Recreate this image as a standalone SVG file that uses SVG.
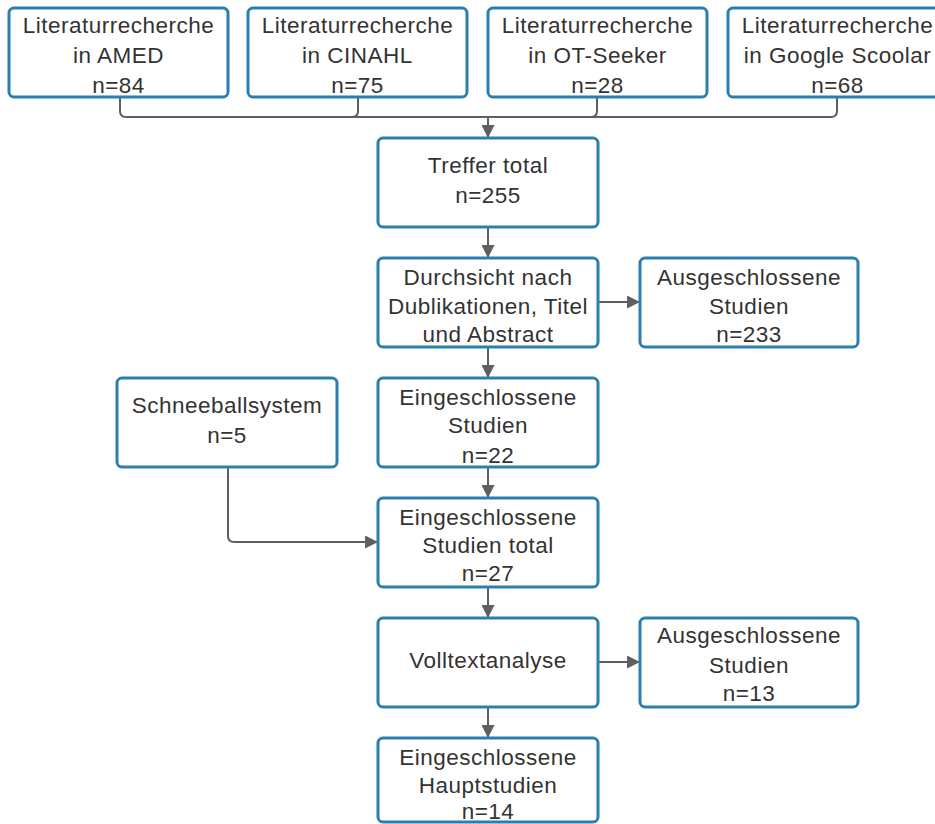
<svg xmlns="http://www.w3.org/2000/svg" width="935" height="824" viewBox="0 0 935 824">
<style>
.box{fill:#fff;stroke:#2a7fb0;stroke-width:3}
.t{font-family:"Liberation Sans",Arial,sans-serif;font-size:22.5px;letter-spacing:0.5px;fill:#333;text-anchor:middle}
.c{fill:none;stroke:#5f5f5f;stroke-width:2}
</style>
<defs>
<marker id="ah" viewBox="0 0 12 12" refX="11" refY="6" markerWidth="13" markerHeight="13" markerUnits="userSpaceOnUse" orient="auto">
<path d="M0,0 L12,6 L0,12 Z" fill="#5f5f5f"/>
</marker>
</defs>
<rect width="935" height="824" fill="#fff"/>
<g id="connectors">
<path class="c" d="M120,97 V111 Q120,117 126,117 H831 Q837,117 837,111 V97"/>
<path class="c" d="M358,97 V111 Q358,117 352,117"/>
<path class="c" d="M597,97 V111 Q597,117 591,117"/>
<path class="c" d="M488,117 V137" marker-end="url(#ah)"/>
<path class="c" d="M488,227 V257" marker-end="url(#ah)"/>
<path class="c" d="M598,302 H639" marker-end="url(#ah)"/>
<path class="c" d="M488,347 V377" marker-end="url(#ah)"/>
<path class="c" d="M488,467 V497" marker-end="url(#ah)"/>
<path class="c" d="M228,467 V536 Q228,542 234,542 H377" marker-end="url(#ah)"/>
<path class="c" d="M488,587 V617" marker-end="url(#ah)"/>
<path class="c" d="M598,662 H639" marker-end="url(#ah)"/>
<path class="c" d="M488,707 V737" marker-end="url(#ah)"/>
</g>
<g id="amed"><rect class="box" x="9" y="8" width="219" height="89" rx="5"/>
<text class="t" x="118.5" y="33">Literaturrecherche</text><text class="t" x="118.5" y="63">in AMED</text><text class="t" x="118.5" y="93">n=84</text></g>
<g id="cinahl"><rect class="box" x="248" y="8" width="219" height="89" rx="5"/>
<text class="t" x="357.5" y="33">Literaturrecherche</text><text class="t" x="357.5" y="63">in CINAHL</text><text class="t" x="357.5" y="93">n=75</text></g>
<g id="otseeker"><rect class="box" x="488" y="8" width="219" height="89" rx="5"/>
<text class="t" x="597.5" y="33">Literaturrecherche</text><text class="t" x="597.5" y="63">in OT-Seeker</text><text class="t" x="597.5" y="93">n=28</text></g>
<g id="google"><rect class="box" x="728" y="8" width="219" height="89" rx="5"/>
<text class="t" x="837.5" y="33">Literaturrecherche</text><text class="t" x="837.5" y="63">in Google Scoolar</text><text class="t" x="837.5" y="93">n=68</text></g>
<g id="treffer"><rect class="box" x="378" y="138" width="220" height="89" rx="5"/>
<text class="t" x="488" y="173">Treffer total</text><text class="t" x="488" y="203">n=255</text></g>
<g id="durchsicht"><rect class="box" x="378" y="258" width="220" height="89" rx="5"/>
<text class="t" x="488" y="285">Durchsicht nach</text><text class="t" x="488" y="314">Dublikationen, Titel</text><text class="t" x="488" y="342">und Abstract</text></g>
<g id="ausgeschlossen1"><rect class="box" x="640" y="258" width="218" height="89" rx="5"/>
<text class="t" x="749" y="285">Ausgeschlossene</text><text class="t" x="749" y="314">Studien</text><text class="t" x="749" y="342">n=233</text></g>
<g id="schneeball"><rect class="box" x="117" y="378" width="220" height="89" rx="5"/>
<text class="t" x="227" y="413">Schneeballsystem</text><text class="t" x="227" y="443">n=5</text></g>
<g id="eingeschlossen"><rect class="box" x="378" y="378" width="220" height="89" rx="5"/>
<text class="t" x="488" y="405">Eingeschlossene</text><text class="t" x="488" y="433">Studien</text><text class="t" x="488" y="463">n=22</text></g>
<g id="eingeschlossentotal"><rect class="box" x="378" y="498" width="220" height="89" rx="5"/>
<text class="t" x="488" y="525">Eingeschlossene</text><text class="t" x="488" y="553">Studien total</text><text class="t" x="488" y="581">n=27</text></g>
<g id="volltext"><rect class="box" x="378" y="618" width="220" height="89" rx="5"/>
<text class="t" x="488" y="668">Volltextanalyse</text></g>
<g id="ausgeschlossen2"><rect class="box" x="640" y="618" width="218" height="89" rx="5"/>
<text class="t" x="749" y="643">Ausgeschlossene</text><text class="t" x="749" y="673">Studien</text><text class="t" x="749" y="701">n=13</text></g>
<g id="hauptstudien"><rect class="box" x="378" y="738" width="220" height="84" rx="5"/>
<text class="t" x="488" y="765">Eingeschlossene</text><text class="t" x="488" y="793">Hauptstudien</text><text class="t" x="488" y="819">n=14</text></g>
</svg>
